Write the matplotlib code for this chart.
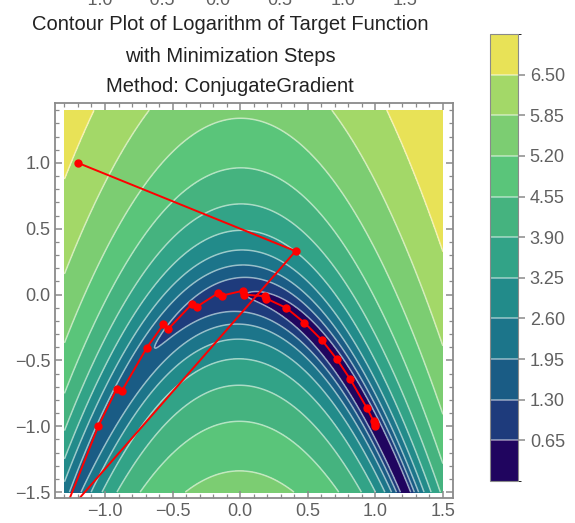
import numpy as np
import matplotlib
matplotlib.use("Agg")
import matplotlib.pyplot as plt
from matplotlib.colors import ListedColormap, BoundaryNorm
from matplotlib.ticker import MultipleLocator

plt.rcParams['font.family'] = ['Liberation Sans', 'DejaVu Sans']

# ---- data ----
x_range = (-1.3, 1.5)
y_range = (-1.5, 1.4)
levels = np.round(np.arange(0, 7.2, 0.65), 2)          # 0 .. 7.15
band_colors = ['#20055f', '#1e3b7c', '#1a5c85', '#1c758a', '#228b8a',
               '#32a387', '#45b37f', '#5ac57a', '#7ccd72', '#a3d868', '#e8e257']
path_x = [-1.2, 0.41, -1.32, -1.05, -0.913, -0.876, -0.691, -0.568, -0.531,
          -0.353, -0.321, -0.161, -0.136, 0.024, 0.032, 0.185, 0.193, 0.341,
          0.476, 0.605, 0.716, 0.815, 0.939, 0.987, 0.995, 1.0]
path_y = [1.0, 0.33, -1.70, -1.0, -0.714, -0.733, -0.404, -0.227, -0.260,
          -0.068, -0.093, 0.013, -0.008, 0.030, 0.0, -0.013, -0.030, -0.101,
          -0.214, -0.346, -0.492, -0.644, -0.864, -0.960, -0.985, -1.0]
top_tick_labels = ['\u22121.0', '\u22120.5', '0.0', '0.5', '1.0', '1.5']
top_tick_px = [95, 157, 218, 280, 343, 405]

# ---- function ----
xs = np.linspace(*x_range, 400)
ys = np.linspace(*y_range, 400)
X, Y = np.meshgrid(xs, ys)
Z = np.log1p((1 - X) ** 2 + 100 * (Y + X ** 2) ** 2)
Z = np.minimum(Z, levels[-1] - 1e-6)

W, H = 575, 523
fig = plt.figure(figsize=(W / 100, H / 100), dpi=100)
ax = fig.add_axes([55 / W, 1 - 498 / H, 398 / W, 395 / H])
cax = fig.add_axes([490 / W, 1 - 481 / H, 28 / W, 447 / H])

cmap = ListedColormap(band_colors)
norm = BoundaryNorm(levels, cmap.N)
cf = ax.contourf(X, Y, Z, levels=levels, cmap=cmap, norm=norm)
cl = ax.contour(X, Y, Z, levels=levels[1:-1], colors='white', alpha=0.55, linewidths=1.1)

ax.plot(path_x, path_y, '-o', color='red', lw=1.4, ms=5)

ax.set_xlim(-1.37, 1.575)
ax.set_ylim(-1.545, 1.455)

grey = '#8a8a8a'
txtc = '#606060'
for s in ax.spines.values():
    s.set_color(grey)
    s.set_linewidth(1.3)
ax.xaxis.set_major_locator(MultipleLocator(0.5))
ax.yaxis.set_major_locator(MultipleLocator(0.5))
ax.xaxis.set_minor_locator(MultipleLocator(0.1))
ax.yaxis.set_minor_locator(MultipleLocator(0.1))
ax.tick_params(which='both', direction='in', top=True, right=True, color=grey,
               labelcolor=txtc, labelsize=13)
ax.tick_params(which='major', length=5, width=1.1)
ax.tick_params(which='minor', length=3, width=0.9)

cb = fig.colorbar(cf, cax=cax)
cb.add_lines(cl)
cb.set_ticks(levels[1:-1])
cb.set_ticklabels(['%.2f' % v for v in levels[1:-1]])
cb.outline.set_edgecolor(grey)
cax.tick_params(color=grey, labelcolor=txtc, labelsize=13, length=5, width=1.1)

fig.text(230 / W, 1 - 24 / H, 'Contour Plot of Logarithm of Target Function',
         ha='center', va='center', fontsize=14.5, color='#222222')
fig.text(230 / W, 1 - 56 / H, 'with Minimization Steps',
         ha='center', va='center', fontsize=14.5, color='#222222')
fig.text(230 / W, 1 - 87 / H, 'Method: ConjugateGradient',
         ha='center', va='center', fontsize=14.5, color='#222222')

for lab, px in zip(top_tick_labels, top_tick_px):
    fig.text(px / W, 1 - 5 / H, lab, ha='center', va='baseline', fontsize=13, color=txtc)

fig.savefig('out.png', dpi=100)
